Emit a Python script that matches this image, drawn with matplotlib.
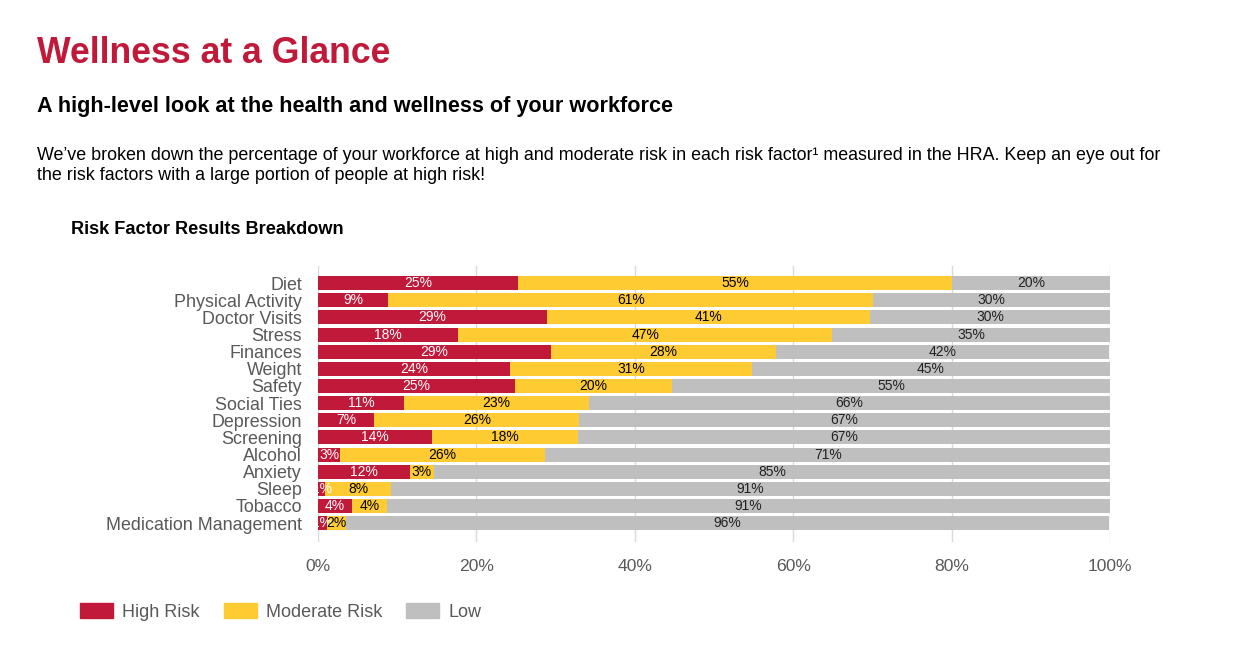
import matplotlib.pyplot as plt
from matplotlib.patches import Patch

plt.rcParams['font.family'] = ['Liberation Sans', 'DejaVu Sans']

categories = ['Diet', 'Physical Activity', 'Doctor Visits', 'Stress', 'Finances',
              'Weight', 'Safety', 'Social Ties', 'Depression', 'Screening',
              'Alcohol', 'Anxiety', 'Sleep', 'Tobacco', 'Medication Management']
high = [25.2, 8.9, 28.9, 17.7, 29.4, 24.2, 24.9, 10.9, 7.1, 14.4, 2.8, 11.6, 0.9, 4.3, 1.1]
moderate = [54.9, 61.2, 40.8, 47.2, 28.4, 30.6, 19.8, 23.3, 25.9, 18.4, 25.9, 3.0, 8.3, 4.4, 2.4]
low = [19.9, 29.9, 30.3, 35.1, 42.1, 45.2, 55.3, 65.8, 67.0, 67.2, 71.3, 85.4, 90.8, 91.3, 96.4]

red = '#C0193A'
yellow = '#FFCB32'
grey = '#BFBFBF'
label_grey = '#595959'

fig = plt.figure(figsize=(12.6, 6.63), dpi=100)

# header texts
fig.text(37 / 1260, 1 - 63 / 663, 'Wellness at a Glance', color=red,
         fontsize=25.7, fontweight='bold', va='baseline')
fig.text(37 / 1260, 1 - 112 / 663, 'A high-level look at the health and wellness of your workforce',
         color='black', fontsize=15.6, fontweight='bold', va='baseline')
fig.text(37 / 1260, 1 - 180 / 663,
         'We\u2019ve broken down the percentage of your workforce at high and moderate risk in each risk factor\u00b9 measured in the HRA. Keep an eye out for\nthe risk factors with a large portion of people at high risk!',
         color='black', fontsize=12.9, va='baseline', linespacing=1.2)
fig.text(71 / 1260, 1 - 229 / 663, 'Risk Factor Results Breakdown', color='black',
         fontsize=13.1, fontweight='bold', va='center')

ax = fig.add_axes([318 / 1260, 1 - 542 / 663, 792 / 1260, 276 / 663])

y = list(range(len(categories)))
h = 0.82
ax.barh(y, high, height=h, color=red, label='High Risk')
ax.barh(y, moderate, left=high, height=h, color=yellow, label='Moderate Risk')
left_low = [a + b for a, b in zip(high, moderate)]
ax.barh(y, low, left=left_low, height=h, color=grey, label='Low')

# segment labels
for i in y:
    segs = [(0, high[i], 'white'), (high[i], moderate[i], 'black'),
            (left_low[i], low[i], '#222222')]
    for start, w, c in segs:
        ax.text(start + w / 2, i, f'{round(w)}%', ha='center', va='center',
                color=c, fontsize=10, clip_on=True)

ax.set_xlim(0, 100)
ax.set_ylim(len(categories) + 0.1, -1.0)
ax.set_xticks([0, 20, 40, 60, 80, 100])
ax.set_xticklabels(['0%', '20%', '40%', '60%', '80%', '100%'])
ax.set_yticks(y)
ax.set_yticklabels(categories)
ax.tick_params(axis='both', length=0, labelcolor=label_grey)
ax.tick_params(axis='y', pad=11.5, labelsize=12.9)
ax.tick_params(axis='x', pad=12, labelsize=12.6)
ax.grid(axis='x', color='#D9D9D9', linewidth=1)
ax.set_axisbelow(True)
for s in ax.spines.values():
    s.set_visible(False)

handles = [Patch(color=red), Patch(color=yellow), Patch(color=grey)]
leg = fig.legend(handles, ['High Risk', 'Moderate Risk', 'Low'], loc='center left',
                 bbox_to_anchor=(80 / 1260, 1 - 612 / 663), ncol=3, frameon=False,
                 fontsize=13, handlelength=1.83, handleheight=0.89,
                 handletextpad=0.5, columnspacing=1.33, borderpad=0, borderaxespad=0)
for t in leg.get_texts():
    t.set_color(label_grey)

fig.savefig('out.png', dpi=100)
